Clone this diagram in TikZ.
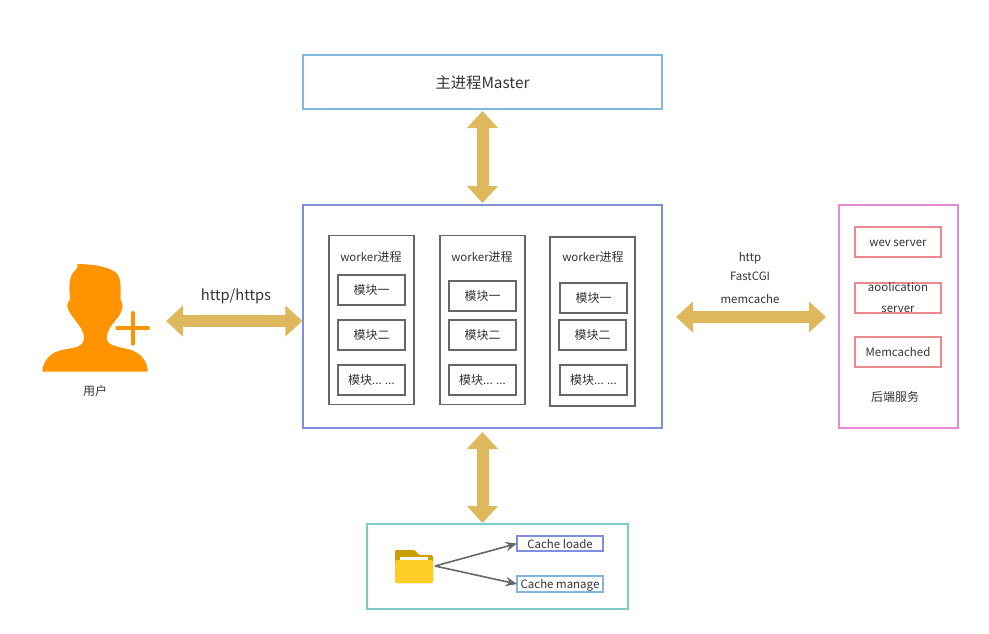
\documentclass[tikz,border=0pt]{standalone}
\usepackage{fontspec}
\setmainfont{Noto Sans CJK SC}
\usetikzlibrary{arrows.meta}

\definecolor{dgold}{HTML}{DFB85E}
\definecolor{dgrey}{HTML}{666666}
\definecolor{dblue}{HTML}{7EB8DE}
\definecolor{dindigo}{HTML}{7F8FD9}
\definecolor{dpink}{HTML}{E68AD8}
\definecolor{dred}{HTML}{EA8A8E}
\definecolor{dteal}{HTML}{7CCBC8}
\definecolor{dorange}{HTML}{FF9300}
\definecolor{dtext}{HTML}{333333}
\definecolor{dfolder}{HTML}{FFCD28}
\definecolor{dfoldertab}{HTML}{CCA000}

\newcommand{\lat}[1]{{\fontsize{8.6}{11}\selectfont #1}}

\tikzset{
  sized/.style 2 args={minimum width=#1*0.75pt, minimum height=#2*0.75pt, inner sep=0pt, outer sep=0pt},
  txt/.style={text=dtext, font=\fontsize{9}{11}\selectfont, text height=8.4pt, text depth=1.6pt},
  lattxt/.style={text=dtext, font=\fontsize{8.6}{11}\selectfont, text height=9pt, text depth=1.6pt},
  modbox/.style={draw=dgrey, line width=1.2pt, txt, sized={67}{30}},
  workerbox/.style={draw=dgrey, line width=1.2pt, sized={85}{169}},
  servbox/.style={draw=dred, line width=1.2pt, lattxt, sized={86}{30}},
  bigarrow/.style={draw=dgold, line width=9pt, {Triangle[length=12.75pt,width=22.5pt]}-{Triangle[length=12.75pt,width=22.5pt]}},
  cachearrow/.style={draw=dgrey, line width=1.2pt, -{Stealth[length=8.5pt,width=7pt]}},
}

\begin{document}
\begin{tikzpicture}[x=0.75pt,y=-0.75pt]
\useasboundingbox (0,0) rectangle (989,633);

% outer boxes
\draw (482.5,82)   node (master) [draw=dblue, line width=1.2pt, text=dtext, font=\fontsize{11.5}{14}\selectfont, text height=11pt, text depth=1.4pt, sized={359}{54}] {主进程Master};
\draw (482.5,316.5) node (mainbox) [draw=dindigo, line width=1.2pt, sized={359}{223}] {};
\draw (898.5,316.5) node (backend) [draw=dpink, line width=1.2pt, sized={119}{223}] {};
\draw (497.5,566.5) node (cache) [draw=dteal, line width=1.2pt, sized={261}{85}] {};

% first worker
\draw (371.5,320) node (workerA) [workerbox] {};
\draw (371,257)   node (titleA)  [txt] {\lat{worker}进程};
\draw (371.5,290) node (modA1)   [modbox] {模块一};
\draw (371.5,335) node (modA2)   [modbox] {模块二};
\draw (371.5,380) node (modA3)   [modbox] {模块\lat{... ...}};

% second worker
\draw (482.5,320) node (workerB) [workerbox] {};
\draw (482,257)   node (titleB)  [txt] {\lat{worker}进程};
\draw (482.5,296) node (modB1)   [modbox] {模块一};
\draw (482.5,335) node (modB2)   [modbox] {模块二};
\draw (482.5,380) node (modB3)   [modbox] {模块\lat{... ...}};

% third worker
\draw (592.5,321.5) node (workerC) [workerbox] {};
\draw (593,257)   node (titleC)  [txt] {\lat{worker}进程};
\draw (593.5,298) node (modC1)   [modbox] {模块一};
\draw (592.5,335) node (modC2)   [modbox] {模块二};
\draw (593.5,380) node (modC3)   [modbox] {模块\lat{... ...}};

% backend services
\draw (898,242) node (servA) [servbox] {wev server};
\draw (898,298) node (servB) [servbox, align=center, text height=, text depth=, font=\fontsize{8.6}{15.75}\selectfont] {aoolication\\server};
\draw (898,352) node (servC) [servbox] {Memcached};
\draw (895,397) node (servT) [txt] {后端服务};

% cache folder
\fill[color=dfoldertab, rounded corners=1pt] (395,583) -- (395,550) -- (415,550) -- (419,555) -- (433,555) -- (433,583) -- cycle;
\fill[white] (400,556.5) rectangle (428,560);
\fill[color=dfolder, rounded corners=1.5pt] (395,583) -- (395,560) -- (433,560) -- (433,583) -- cycle;
\coordinate (folderout) at (435,566);

\draw (560,543.5) node (cacheA) [draw=dindigo, line width=1.2pt, lattxt, sized={86}{15}] {Cache loade};
\draw (560,584)   node (cacheB) [draw=dblue, line width=1.2pt, lattxt, sized={86}{16}] {Cache manage};
\draw[cachearrow] (folderout) -- (cacheA.west);
\draw[cachearrow] (folderout) -- (cacheB.west);

% person with a plus sign
\begin{scope}[shift={(20,240)},x=0.25pt,y=-0.25pt]
\fill[dorange] (172,72) .. controls (215,72) and (270,80) .. (290,100)
  .. controls (305,115) and (302,150) .. (302,180)
  .. controls (312,195) and (307,212) .. (297,228)
  .. controls (278,252) and (260,270) .. (260,295)
  .. controls (262,325) and (320,320) .. (345,335)
  .. controls (370,348) and (383,370) .. (383,395)
  -- (67,395)
  .. controls (67,370) and (85,345) .. (110,335)
  .. controls (140,322) and (190,330) .. (192,295)
  .. controls (192,265) and (162,240) .. (148,215)
  .. controls (141,203) and (138,190) .. (150,180)
  .. controls (148,150) and (145,115) .. (160,97)
  .. controls (168,88) and (175,85) .. (172,72) -- cycle;
\draw[dorange, line width=3pt, line cap=round] (292,265) -- (384,265);
\draw[dorange, line width=3pt, line cap=round] (338,219) -- (338,311);
\end{scope}
\draw (95,390.5) node (usertext) [txt] {用户};

% thick arrows between the parts
\coordinate (userport) at (166,321);
\coordinate (backport) at (676,317);
\draw[bigarrow, shorten <=1.5pt, shorten >=1.5pt] (master.south) -- (mainbox.north);
\draw[bigarrow, shorten >=0.5pt] (userport) -- (userport -| mainbox.west);
\draw[bigarrow, shorten <=10.5pt, shorten >=9.75pt] (backport -| mainbox.east) -- (backport -| backend.west);
\draw[bigarrow, shorten <=3pt, shorten >=0.75pt] (mainbox.south) -- (mainbox.south |- cache.north);

% protocol labels
\draw (236,296) node (httpA) [text=dtext, font=\fontsize{11}{13}\selectfont] {http/https};
\draw (750,256.5) node (httpB) [lattxt] {http};
\draw (750,276)   node (httpC) [lattxt] {FastCGI};
\draw (750,298.5) node (httpD) [lattxt] {memcache};
\end{tikzpicture}
\end{document}
